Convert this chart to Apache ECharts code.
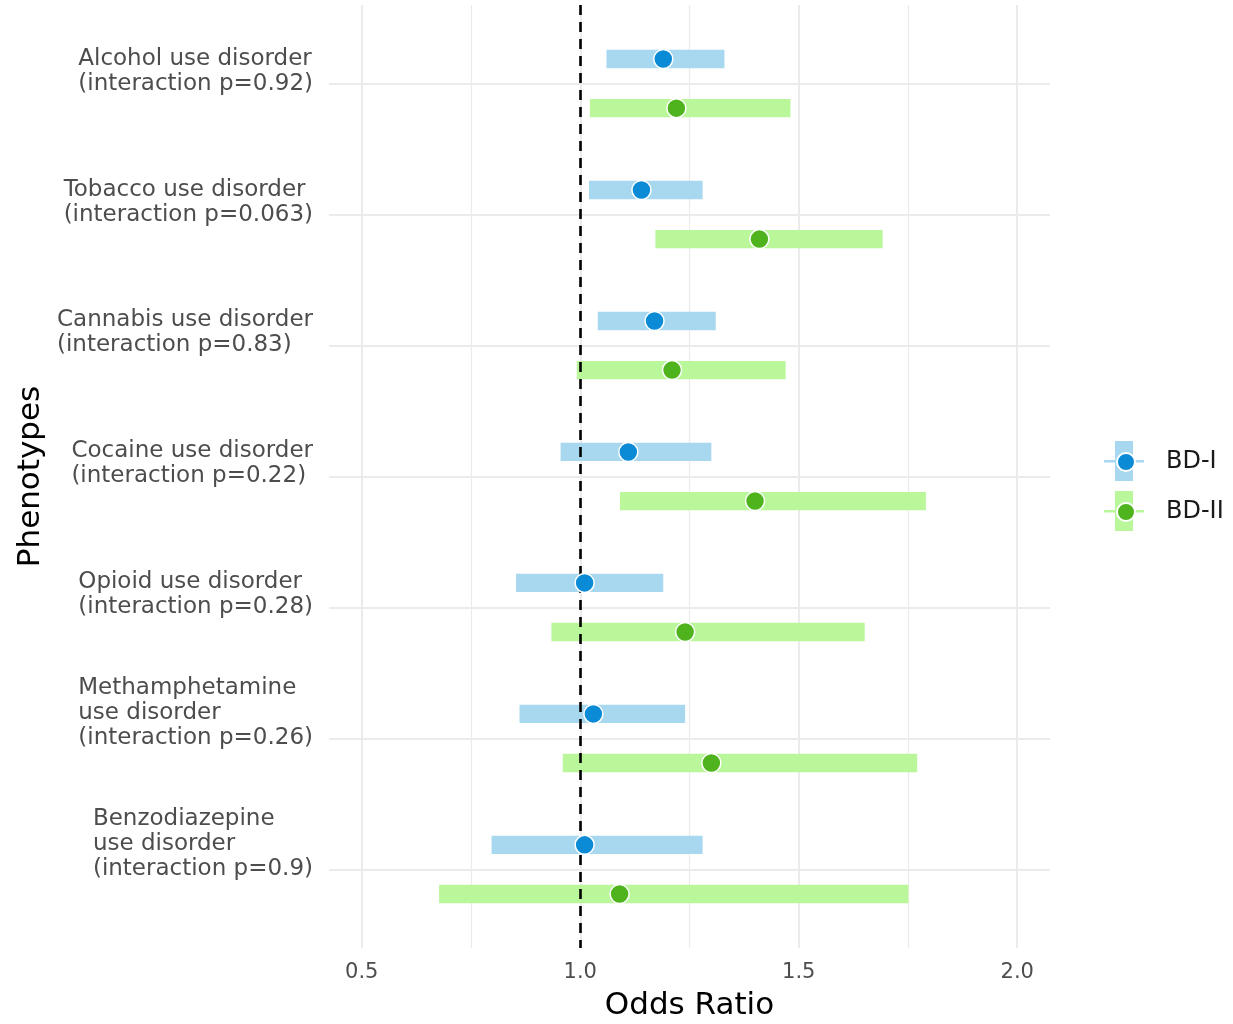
<!DOCTYPE html>
<html>
<head>
<meta charset="utf-8">
<script src="https://cdn.jsdelivr.net/npm/echarts@6/dist/echarts.min.js"></script>
<style>
html,body{margin:0;padding:0;background:#fff;}
#chart{width:1233px;height:1024px;}
</style>
</head>
<body>
<div id="chart"></div>
<script>
// ---- data ----
const categories = [
  'Alcohol use disorder\n(interaction p=0.92)',
  'Tobacco use disorder\n(interaction p=0.063)',
  'Cannabis use disorder\n(interaction p=0.83)',
  'Cocaine use disorder\n(interaction p=0.22)',
  'Opioid use disorder\n(interaction p=0.28)',
  'Methamphetamine\nuse disorder\n(interaction p=0.26)',
  'Benzodiazepine\nuse disorder\n(interaction p=0.9)'
];
const groups = ['BD-I', 'BD-II'];
const bd1OR   = [1.19, 1.14, 1.17, 1.11, 1.01, 1.03, 1.01];
const bd1Low  = [1.06, 1.02, 1.04, 0.955, 0.853, 0.861, 0.797];
const bd1High = [1.33, 1.28, 1.31, 1.30, 1.19, 1.24, 1.28];
const bd2OR   = [1.22, 1.41, 1.21, 1.40, 1.24, 1.30, 1.09];
const bd2Low  = [1.022, 1.172, 0.992, 1.091, 0.934, 0.960, 0.677];
const bd2High = [1.481, 1.692, 1.470, 1.791, 1.651, 1.771, 1.751];
const xLimits = [0.5, 2.0];
const xTickLabels = [0.5, 1.0, 1.5, 2.0];
const xMinorTicks = [0.75, 1.25, 1.75];
const refLine = 1.0;

// ---- styling / layout ----
const colors = {
  'BD-I':  {point: '#0b8bd6', bar: '#a8d8f0'},
  'BD-II': {point: '#4fb31e', bar: '#b9f79a'}
};
const DODGE = 0.1875;
const BAR_H = 0.14;
const FONT = 'DejaVu Sans';
const xPad = (xLimits[1] - xLimits[0]) * 0.05;
const catIdx = categories.map((_, i) => i);

function barData(low, high, sign) {
  return low.map((l, i) => [l, high[i], i + sign * DODGE]);
}
function pointData(or, sign) {
  return or.map((v, i) => [v, i + sign * DODGE]);
}
function renderBar(params, api) {
  const y = api.value(2);
  const p0 = api.coord([api.value(0), y]);
  const p1 = api.coord([api.value(1), y]);
  const h = api.size([0, BAR_H])[1];
  return {
    type: 'rect',
    shape: {x: p0[0], y: p0[1] - h / 2, width: p1[0] - p0[0], height: h},
    style: {fill: api.visual('color')}
  };
}

const gridLineData = []
  .concat(xTickLabels.map(v => ({xAxis: v, lineStyle: {width: 2, color: '#ebebeb', type: 'solid'}})))
  .concat(xMinorTicks.map(v => ({xAxis: v, lineStyle: {width: 1.2, color: '#ebebeb', type: 'solid'}})))
  .concat(catIdx.map(v => ({yAxis: v, lineStyle: {width: 2, color: '#ebebeb', type: 'solid'}})));

const barPathIcon = 'path://M11,0 L29,0 L29,19 L40,19 L40,21.5 L29,21.5 L29,40 L11,40 L11,21.5 L0,21.5 L0,19 L11,19 Z';
const pointPathIcon = 'path://M0,9 L0,9.01 M56,9 L56,9.01 M30,9 A9,9 0 1 1 12,9 A9,9 0 1 1 30,9 Z';

const series = [
  {
    name: 'grid', type: 'line', data: [], silent: true, z: 0,
    markLine: {
      z: 0, silent: true, symbol: 'none', animation: false,
      label: {show: false}, emphasis: {disabled: true},
      data: gridLineData
    }
  }
];
groups.forEach((g, gi) => {
  const sign = gi === 0 ? -1 : 1;
  const low = gi === 0 ? bd1Low : bd2Low;
  const high = gi === 0 ? bd1High : bd2High;
  const or = gi === 0 ? bd1OR : bd2OR;
  series.push({
    name: g + ' CI', type: 'custom', renderItem: renderBar, z: 2,
    itemStyle: {color: colors[g].bar},
    encode: {x: [0, 1], y: 2},
    data: barData(low, high, sign),
    silent: true, animation: false
  });
  series.push({
    name: g, type: 'scatter', z: 4,
    symbol: 'circle', symbolSize: 19,
    itemStyle: {color: colors[g].point, borderColor: '#ffffff', borderWidth: 1.5, opacity: 1},
    data: pointData(or, sign),
    silent: true, animation: false
  });
});
series.push({
  name: 'ref', type: 'line', data: [], silent: true, z: 3,
  markLine: {
    z: 3, silent: true, symbol: 'none', animation: false,
    label: {show: false}, emphasis: {disabled: true},
    lineStyle: {color: '#000000', width: 2.6, type: [10, 7]},
    data: [{xAxis: refLine}]
  }
});

const option = {
  backgroundColor: '#ffffff',
  animation: false,
  grid: {left: 329, right: 183, top: 5, bottom: 76, outerBoundsMode: 'none', containLabel: false},
  xAxis: {
    type: 'value',
    min: xLimits[0] - xPad, max: xLimits[1] + xPad,
    axisLine: {show: false}, axisTick: {show: false}, splitLine: {show: false},
    axisLabel: {
      customValues: xTickLabels,
      formatter: v => Number(v).toFixed(1),
      fontSize: 21, color: '#4d4d4d', fontFamily: FONT, margin: 14
    },
    name: 'Odds Ratio', nameLocation: 'middle', nameGap: 42,
    nameTextStyle: {fontSize: 31, color: '#000000', fontFamily: FONT}
  },
  yAxis: {
    type: 'value', inverse: true, min: -0.6, max: categories.length - 1 + 0.6,
    axisLine: {show: false}, axisTick: {show: false}, splitLine: {show: false},
    axisLabel: {
      customValues: catIdx,
      align: 'right', margin: 16,
      formatter: v => {
        const t = categories[Math.round(v)] || '';
        const n = t.split('\n').length;
        return '{t|' + t + '\n '.repeat(n - 1) + '}';
      },
      rich: {t: {fontSize: 23, lineHeight: 25, color: '#4d4d4d', fontFamily: FONT, align: 'left'}}
    },
    name: 'Phenotypes', nameLocation: 'middle', nameGap: 282, nameRotate: 90,
    nameTextStyle: {fontSize: 31, color: '#000000', fontFamily: FONT}
  },
  legend: [
    {
      data: groups.map(g => g + ' CI'), orient: 'vertical', left: 1104, top: 441, padding: 0,
      icon: barPathIcon, itemWidth: 40, itemHeight: 40, itemGap: 10,
      formatter: () => '', selectedMode: false,
      itemStyle: {borderWidth: 0}
    },
    {
      data: groups, orient: 'vertical', left: 1104, top: 450, padding: 0,
      icon: pointPathIcon, itemWidth: 56, itemHeight: 18, itemGap: 26,
      selectedMode: false,
      textStyle: {fontSize: 24, color: '#1a1a1a', fontFamily: FONT}
    }
  ],
  series: series
};

const chart = echarts.init(document.getElementById('chart'), null, {renderer: 'canvas'});
chart.setOption(option);
</script>
</body>
</html>
